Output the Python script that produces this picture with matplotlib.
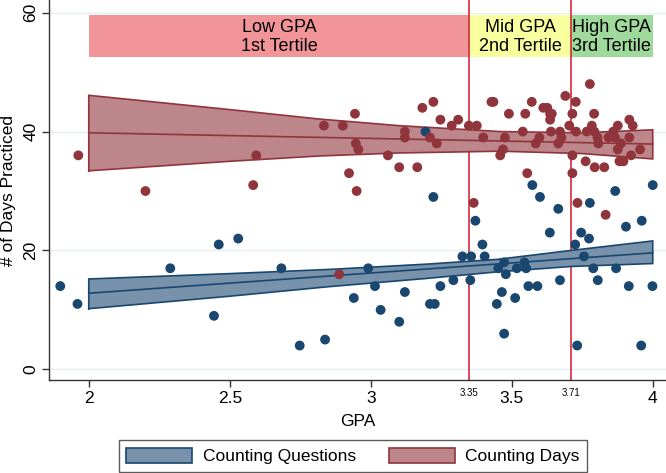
import numpy as np
import matplotlib
matplotlib.use("Agg")
import matplotlib.pyplot as plt
from matplotlib.patches import Rectangle, Patch

plt.rcParams['font.family'] = ['Liberation Sans', 'DejaVu Sans']

# ---- data ----
red_gpa = [1.963, 2.201, 2.594, 2.583, 2.834, 2.901, 2.944, 2.947, 2.956, 2.923,
           2.950, 2.888, 3.061, 3.101, 3.165, 3.121, 3.121, 3.183, 3.222, 3.247,
           3.210, 3.234, 3.287, 3.310, 3.348, 3.376, 3.399, 3.428, 3.435, 3.365,
           3.459, 3.469, 3.476, 3.490, 3.539, 3.548, 3.571, 3.612, 3.626, 3.636,
           3.642, 3.636, 3.690, 3.727, 3.777, 3.715, 3.792, 3.704, 3.728, 3.784,
           3.766, 3.793, 3.639, 3.671, 3.598, 3.676, 3.585, 3.665, 3.715, 3.804,
           3.807, 3.843, 3.860, 3.876, 3.917, 3.929, 3.866, 3.887, 3.917, 3.876,
           3.955, 3.923, 3.882, 3.896, 3.762, 3.794, 3.828, 3.715, 3.555, 3.733,
           3.833]
red_days = [36, 30, 36, 31, 41, 41, 43, 38, 37, 33,
            30, 16, 36, 34, 34, 40, 39, 44, 45, 42,
            39, 38, 41, 42, 41, 41, 39, 45, 45, 28,
            36, 37, 39, 43, 40, 43, 45, 44, 44, 43,
            43, 42, 46, 45, 48, 43, 43, 41, 40, 41,
            40, 40, 40, 40, 39, 39, 38, 38, 36, 39,
            38, 39, 40, 41, 42, 41, 39, 38, 39, 37,
            37, 36, 35, 35, 35, 34, 34, 33, 33, 28,
            26]

blue_gpa = [1.899, 1.960, 2.289, 2.461, 2.530, 2.444, 2.683, 2.748, 2.838, 2.940,
            2.991, 3.015, 3.035, 3.101, 3.121, 3.210, 3.227, 3.247, 3.293, 3.325,
            3.356, 3.404, 3.353, 3.396, 3.371, 3.452, 3.447, 3.473, 3.465, 3.479,
            3.473, 3.512, 3.518, 3.545, 3.551, 3.559, 3.591, 3.671, 3.635, 3.725,
            3.746, 3.774, 3.756, 3.789, 3.805, 3.870, 3.915, 3.999, 3.732, 3.959,
            3.194, 3.222, 3.573, 3.600, 3.665, 3.777, 3.867, 4.000, 3.905, 3.961]
blue_q = [14, 11, 17, 21, 22, 9, 17, 4, 5, 12,
          17, 14, 10, 8, 13, 11, 11, 14, 15, 19,
          19, 19, 15, 21, 25, 17, 11, 6, 13, 16,
          18, 12, 17, 18, 17, 14, 14, 15, 23, 21,
          23, 22, 19, 17, 15, 17, 14, 14, 4, 4,
          40, 29, 31, 29, 27, 28, 30, 31, 24, 25]

# linear fits and 95% CI bands
fit_x = [2.0, 4.0]
blue_fit = [12.8, 19.6]
red_fit = [39.8, 37.9]

blue_ci_x = [2.0, 2.5, 2.85, 3.2, 3.45, 3.71, 4.0]
blue_ci_hi = [15.2, 16.1, 16.8, 17.7, 18.5, 20.0, 21.6]
blue_ci_lo = [10.2, 12.3, 13.9, 15.3, 16.4, 17.3, 17.8]

red_ci_x = [2.0, 2.5, 2.82, 3.1, 3.46, 3.75, 4.0]
red_ci_hi = [46.1, 43.7, 42.1, 41.0, 40.0, 39.8, 40.3]
red_ci_lo = [33.4, 35.0, 35.9, 36.4, 36.7, 36.3, 35.4]

tertile_edges = [2.0, 3.35, 3.71, 4.0]
tertile_labels = ["Low GPA\n1st Tertile", "Mid GPA\n2nd Tertile", "High GPA\n3rd Tertile"]
tertile_colors = ["#F29599", "#F8FF9E", "#9FD99C"]
cut_ticks = [3.35, 3.71]
cut_labels = ["3.35", "3.71"]
x_ticks = [2, 2.5, 3, 3.5, 4]
x_tick_labels = ["2", "2.5", "3", "3.5", "4"]
y_ticks = [0, 20, 40, 60]

NAVY = "#1A476F"
MAROON = "#90353B"
NAVY_FILL = "#7792AA"
MAROON_FILL = "#BC868B"
LINE_RED = "#D42A3A"

fig = plt.figure(figsize=(6.66, 4.73), dpi=100)
ax = fig.add_axes([0.074, 0.1966, 0.926, 0.8034])
ax.set_xlim(1.860, 4.047)
ax.set_ylim(-1.80, 62.14)

for yv in y_ticks:
    ax.axhline(yv, color="#E6EFF1", lw=1.0, zorder=0)

# tertile boxes
for i in range(3):
    x0, x1 = tertile_edges[i], tertile_edges[i + 1]
    ax.add_patch(Rectangle((x0, 52.6), x1 - x0, 7.1, facecolor=tertile_colors[i],
                           edgecolor="none", zorder=1))
    ax.text((x0 + x1) / 2, 55.9, tertile_labels[i], ha="center", va="center",
            fontsize=13, linespacing=1.15, zorder=3)

for c in cut_ticks:
    ax.axvline(c, color=LINE_RED, lw=1.2, zorder=2)

for cx, lo, hi, fit, dark, fill in [
        (blue_ci_x, blue_ci_lo, blue_ci_hi, blue_fit, NAVY, NAVY_FILL),
        (red_ci_x, red_ci_lo, red_ci_hi, red_fit, MAROON, MAROON_FILL)]:
    cx = np.asarray(cx)
    lo = np.asarray(lo)
    hi = np.asarray(hi)
    ax.fill_between(cx, lo, hi, facecolor=fill, edgecolor="none", zorder=4)
    ax.plot(np.r_[cx, cx[::-1], cx[0]], np.r_[lo, hi[::-1], lo[0]],
            color=dark, lw=1.2, zorder=5, solid_joinstyle="miter")
    ax.plot(fit_x, fit, color=dark, lw=1.2, zorder=5)

ax.scatter(blue_gpa, blue_q, s=50, color=NAVY, edgecolors="none", zorder=6)
ax.scatter(red_gpa, red_days, s=50, color=MAROON, edgecolors="none", zorder=6)

for sp in ["top", "right"]:
    ax.spines[sp].set_visible(False)
for sp in ["left", "bottom"]:
    ax.spines[sp].set_color("#333333")
    ax.spines[sp].set_linewidth(1.0)

ax.set_xticks(x_ticks)
ax.set_xticklabels(x_tick_labels)
ax.set_xticks(cut_ticks, minor=True)
ax.set_xticklabels(cut_labels, minor=True)
ax.tick_params(axis="x", which="major", length=5, width=1, color="#333333",
               labelsize=12.5, pad=3)
ax.tick_params(axis="x", which="minor", length=0, labelsize=7, pad=6)
ax.set_yticks(y_ticks)
ax.tick_params(axis="y", length=5, width=1, color="#333333", labelsize=12.5, pad=3)
for lab in ax.get_yticklabels():
    lab.set_rotation(90)
    lab.set_va("center")

ax.set_xlabel("GPA", fontsize=12.5, labelpad=6)
ax.set_ylabel("# of Days Practiced", fontsize=12.5, labelpad=5)

handles = [Patch(facecolor=NAVY_FILL, edgecolor=NAVY, lw=1.2, label="Counting Questions"),
           Patch(facecolor=MAROON_FILL, edgecolor=MAROON, lw=1.2, label="Counting Days")]
leg = fig.legend(handles=handles, loc="center", bbox_to_anchor=(0.530, 0.036), ncol=2,
                 fontsize=12.5, frameon=True, fancybox=False, edgecolor="#333333",
                 handlelength=3.8, handleheight=1.0, handletextpad=0.6,
                 columnspacing=1.9, borderpad=0.45)
leg.get_frame().set_linewidth(1.0)

fig.savefig("out.png", dpi=100, facecolor="white")
